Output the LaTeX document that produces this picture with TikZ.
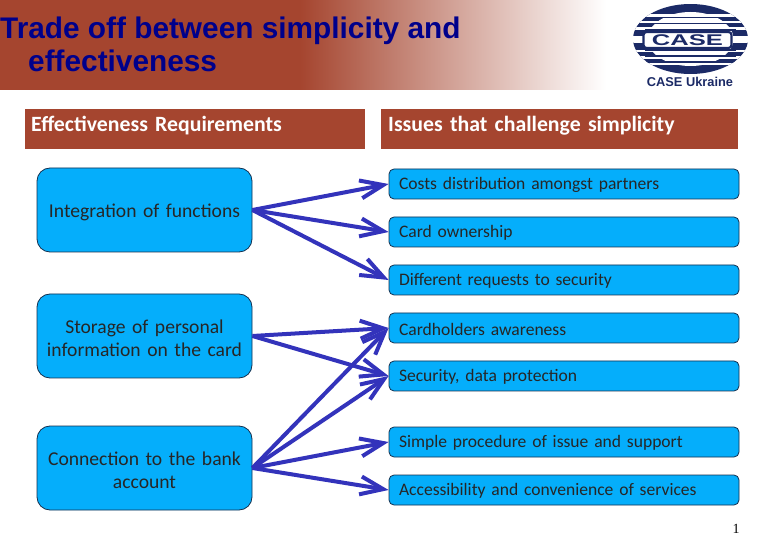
\documentclass[tikz,border=0pt]{standalone}
\usepackage{fontspec}
\setmainfont[WordSpace=0.8]{Carlito}
\newfontfamily\titlefont[WordSpace=1.12]{Liberation Sans}
\newfontfamily\logofont{Liberation Sans}
\newfontfamily\numfont{Liberation Serif}
\usetikzlibrary{arrows.meta,positioning}
\definecolor{brick}{HTML}{A5452F}
\definecolor{cyanbox}{HTML}{05AEFB}
\definecolor{boxline}{HTML}{14304F}
\definecolor{arrowblue}{HTML}{3333BB}
\definecolor{titlenavy}{HTML}{00008B}
\definecolor{logonavy}{HTML}{1B2A66}
\tikzset{
  x=1pt,y=-1pt,
  leftbox/.style={draw=boxline,line width=0.8pt,fill=cyanbox,rounded corners=13pt,minimum width=215pt,minimum height=84pt,inner sep=2pt,align=center,text width=208pt,font=\fontsize{19.6}{23}\selectfont,text=black!85,execute at begin node={\rule{0pt}{18pt}}},
  rightbox/.style={draw=boxline,line width=0.8pt,fill=cyanbox,rounded corners=5pt,minimum width=350pt,minimum height=30pt,inner sep=0pt,text width=330pt,align=left,font=\fontsize{17.55}{20}\selectfont,text=black!85,execute at begin node={\rule{0pt}{14.5pt}}},
  headbar/.style={fill=brick,inner sep=0pt,minimum height=40pt,text=white,align=left,font=\bfseries\fontsize{21.8}{24}\selectfont,execute at begin node={\rule[-10pt]{0pt}{1pt}}},
  link/.style={draw=arrowblue,line width=4pt,-{Straight Barb[length=23pt,width=18pt,line width=4pt]}},
  titletext/.style={inner sep=0pt,anchor=base west,text=titlenavy,font=\titlefont\bfseries\fontsize{29.8}{32}\selectfont},
}
\begin{document}
\begin{tikzpicture}
\useasboundingbox (0,0) rectangle (780,540);
\fill[white] (0,0) rectangle (780,540);
% title band
\fill[brick] (0,0) rectangle (300,90);
\shade[left color=brick,right color=white] (300,0) rectangle (606,90);
\node[titletext] (t1) at (0,39) {Trade off between simplicity and};
\node[titletext] (t2) at (28,72) {effectiveness};
% logo
\begin{scope}
\clip (690.5,39) ellipse [x radius=57.5,y radius=35];
\fill[logonavy] (633,4) rectangle (748,74);
\fill[white] (690.5,39) ellipse [x radius=43,y radius=27];
\foreach \yy in {14.5,21,27.5,50,56.5,63}{\fill[white] (633,\yy) rectangle (748,\yy+2.2);}
\foreach \yy in {17.5,23.8,30,50,56,62}{\draw[logonavy,line width=1.2pt] (645,\yy) -- (736,\yy);}
\fill[white] (633,36.5) rectangle (748,43);
\end{scope}
\node[draw=logonavy,line width=2.2pt,fill=white,rounded corners=3pt,minimum width=88pt,minimum height=16pt,inner sep=0pt] (logobox) at (687.5,40) {\logofont\bfseries\fontsize{15.5}{15}\selectfont\textcolor{logonavy}{\scalebox{1.65}[1]{CASE}}};
\node[inner sep=0pt,text=logonavy] (logotext) at (690,82) {\logofont\bfseries\fontsize{12.8}{14}\selectfont CASE Ukraine};
% headers
\node[headbar,anchor=north west,minimum width=340pt,text width=334pt] (hl) at (25,109) {\hspace*{3pt}Effectiveness Requirements};
\node[headbar,anchor=north west,minimum width=357pt,text width=351pt] (hr) at (381,109) {\hspace*{4pt}Issues that challenge simplicity};
% left boxes
\node[leftbox] (b1) at (144.5,210) {Integration of functions};
\node[leftbox] (b2) at (144.5,336) {Storage of personal\\information on the card};
\node[leftbox] (b3) at (144.5,468) {Connection to the bank\\account};
% right boxes
\node[rightbox] (r1) at (564,184) {Costs distribution amongst partners};
\node[rightbox] (r2) at (564,232) {Card ownership};
\node[rightbox] (r3) at (564,280) {Different requests to security};
\node[rightbox] (r4) at (564,328) {Cardholders awareness};
\node[rightbox] (r5) at (564,376) {Security, data protection};
\node[rightbox] (r6) at (564,442) {Simple procedure of issue and support};
\node[rightbox] (r7) at (564,490) {Accessibility and convenience of services};
% connectors
\draw[link] (b1.east) -- (r1.west);
\draw[link] (b1.east) -- (r2.west);
\draw[link] (b1.east) -- (r3.west);
\draw[link] (b2.east) -- (r4.west);
\draw[link] (b2.east) -- (r5.west);
\draw[link] (b3.east) -- (r4.west);
\draw[link] (b3.east) -- (r5.west);
\draw[link] (b3.east) -- (r6.west);
\draw[link] (b3.east) -- (r7.west);
\node[inner sep=0pt,font=\numfont\fontsize{14}{16}\selectfont] (pg) at (736,529) {1};
\end{tikzpicture}
\end{document}
